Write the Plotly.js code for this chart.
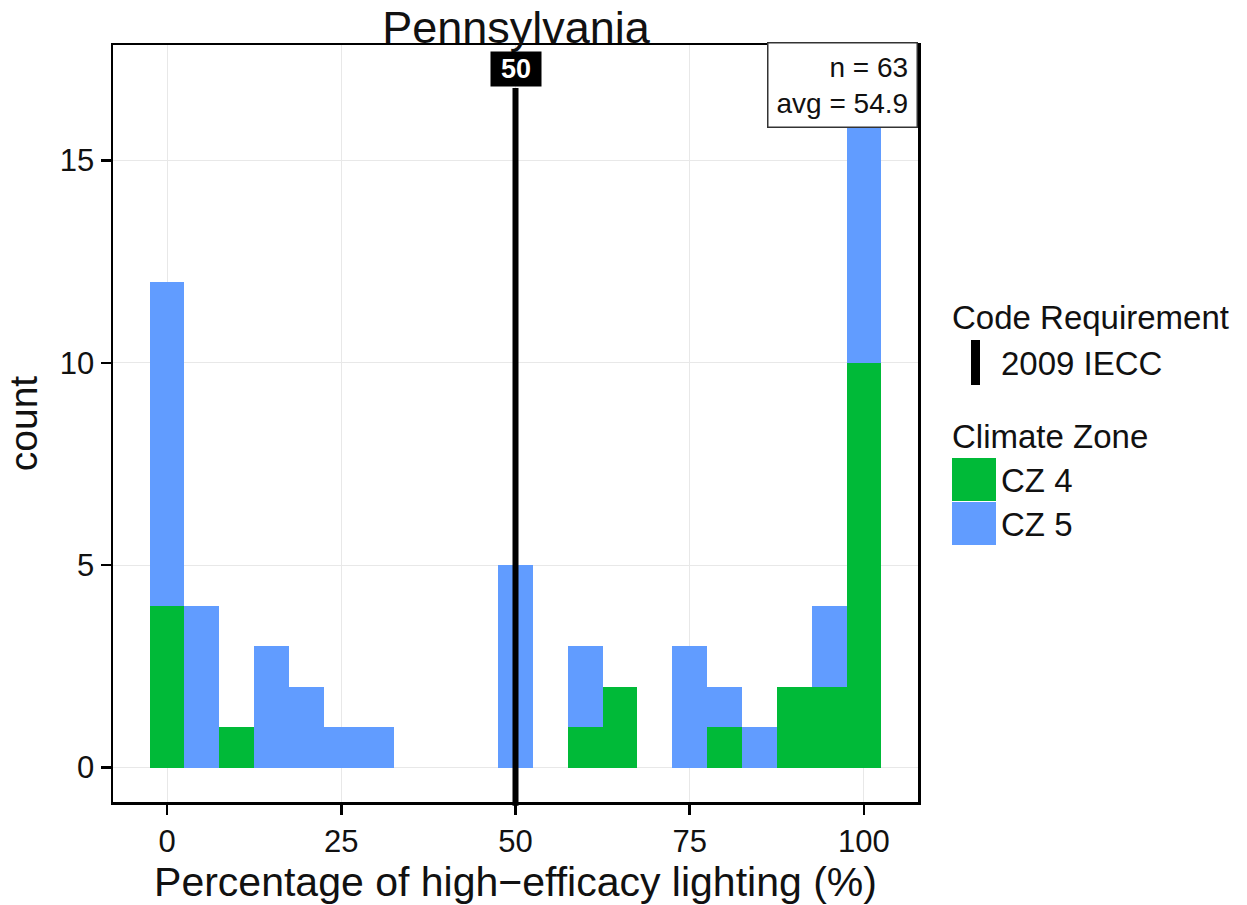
<!DOCTYPE html>
<html>
<head>
<meta charset="utf-8">
<script src="https://cdn.plot.ly/plotly-3.0.1.min.js"></script>
<style>html,body{margin:0;padding:0;background:#fff;}#chart{width:1247px;height:905px;}</style>
</head>
<body>
<div id="chart"></div>
<script>
// Histogram bins (centre of each 5-point bin, %)
var binCenters = [0,5,10,15,20,25,30,35,40,45,50,55,60,65,70,75,80,85,90,95,100];
// Counts per bin for each climate zone
var cz4Counts = [4,0,1,0,0,0,0,0,0,0,0,0,1,2,0,0,1,0,2,2,10];
var cz5Counts = [8,4,0,3,2,1,1,0,0,0,5,0,2,0,0,3,1,1,0,2,7];
var seriesNames = ['CZ 4','CZ 5'];
var seriesColors = ['#00BA38','#619CFF'];
var codeRequirement = 50;
var codeLabel = '2009 IECC';
var xTicks = [0,25,50,75,100];
var yTicks = [0,5,10,15];
var nObs = 63;
var avgValue = 54.9;

var FONT = 'Liberation Sans, Arial, sans-serif';
var binWidth = 5;
var widths = binCenters.map(function(){return binWidth;});

var traces = [
  {type:'bar', x:binCenters, y:cz4Counts, width:widths, name:seriesNames[0],
   marker:{color:seriesColors[0], line:{width:0}}, showlegend:false, hoverinfo:'x+y+name'},
  {type:'bar', x:binCenters, y:cz5Counts, width:widths, name:seriesNames[1],
   marker:{color:seriesColors[1], line:{width:0}}, showlegend:false, hoverinfo:'x+y+name'}
];

function px2x(p){return (p-113)/805;}
function px2y(p){return (802-p)/757;}

var shapes = [
  {type:'line', xref:'x', yref:'paper', x0:codeRequirement, x1:codeRequirement, y0:-0.005, y1:px2y(88),
   line:{color:'#000', width:6}, layer:'above'},
  // legend swatches
  {type:'rect', xref:'paper', yref:'paper', x0:px2x(971), x1:px2x(980), y0:px2y(385), y1:px2y(340),
   fillcolor:'#000', line:{width:0}},
  {type:'rect', xref:'paper', yref:'paper', x0:px2x(952), x1:px2x(996), y0:px2y(501), y1:px2y(458),
   fillcolor:seriesColors[0], line:{width:0}},
  {type:'rect', xref:'paper', yref:'paper', x0:px2x(952), x1:px2x(996), y0:px2y(545), y1:px2y(502),
   fillcolor:seriesColors[1], line:{width:0}}
];

var LEG = 33;
var annotations = [
  {xref:'x', yref:'paper', x:codeRequirement, y:px2y(69), text:'<b>'+codeRequirement+'</b>',
   showarrow:false, font:{family:FONT, size:27, color:'#fff'}, bgcolor:'#000', borderpad:4,
   width:42, height:26, align:'center', valign:'middle',
   xanchor:'center', yanchor:'middle'},
  {xref:'paper', yref:'paper', x:1, y:1.004, xanchor:'right', yanchor:'top', align:'right',
   text:'n = '+nObs+'<br>avg = '+avgValue, showarrow:false,
   font:{family:FONT, size:28, color:'#111'}, bgcolor:'#fff', bordercolor:'#333', borderwidth:1.5, borderpad:8},
  // legend texts
  {xref:'paper', yref:'paper', x:px2x(950), y:px2y(317), xanchor:'left', yanchor:'middle',
   text:'Code Requirement', showarrow:false, font:{family:FONT, size:LEG, color:'#111'}},
  {xref:'paper', yref:'paper', x:px2x(999), y:px2y(363), xanchor:'left', yanchor:'middle',
   text:codeLabel, showarrow:false, font:{family:FONT, size:LEG, color:'#111'}},
  {xref:'paper', yref:'paper', x:px2x(950), y:px2y(436), xanchor:'left', yanchor:'middle',
   text:'Climate Zone', showarrow:false, font:{family:FONT, size:LEG, color:'#111'}},
  {xref:'paper', yref:'paper', x:px2x(999), y:px2y(481), xanchor:'left', yanchor:'middle',
   text:seriesNames[0], showarrow:false, font:{family:FONT, size:LEG, color:'#111'}},
  {xref:'paper', yref:'paper', x:px2x(999), y:px2y(524), xanchor:'left', yanchor:'middle',
   text:seriesNames[1], showarrow:false, font:{family:FONT, size:LEG, color:'#111'}}
];

var layout = {
  width:1247, height:905,
  margin:{l:113, r:329, t:45, b:103, pad:0},
  paper_bgcolor:'#fff', plot_bgcolor:'#fff',
  barmode:'stack', bargap:0,
  font:{family:FONT, color:'#000'},
  title:{text:'Pennsylvania', font:{family:FONT, size:45, color:'#111'},
         x:px2x(516), xref:'paper', xanchor:'center', y:1-27/905, yref:'container', yanchor:'middle'},
  xaxis:{range:[-7.75,107.75], tickvals:xTicks, ticktext:xTicks.map(String),
         showgrid:true, gridcolor:'#e8e8e8', gridwidth:1, zeroline:false,
         showline:true, linecolor:'#000', linewidth:2.5, mirror:true,
         ticks:'outside', ticklen:10, tickwidth:2.5, tickcolor:'#000',
         tickfont:{family:FONT, size:31, color:'#111'},
         title:{text:'Percentage of high\u2212efficacy lighting (%)', font:{family:FONT, size:41, color:'#111'}, standoff:7}},
  yaxis:{range:[-0.85,17.85], tickvals:yTicks, ticktext:yTicks.map(String),
         showgrid:true, gridcolor:'#e8e8e8', gridwidth:1, zeroline:false,
         showline:true, linecolor:'#000', linewidth:2.5, mirror:true,
         ticks:'outside', ticklen:10, tickwidth:2.5, tickcolor:'#000',
         tickfont:{family:FONT, size:31, color:'#111'},
         title:{text:'count', font:{family:FONT, size:39, color:'#111'}, standoff:10}},
  shapes:shapes,
  annotations:annotations,
  showlegend:false
};

Plotly.newPlot('chart', traces, layout, {displayModeBar:false, staticPlot:true});
</script>
</body>
</html>
